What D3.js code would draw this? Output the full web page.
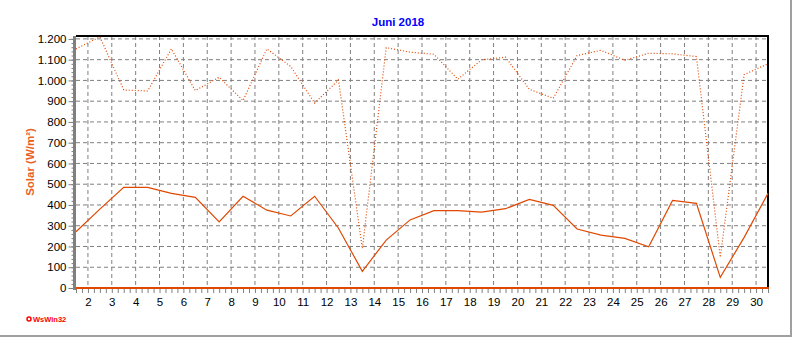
<!DOCTYPE html>
<html>
<head>
<meta charset="utf-8">
<script src="https://cdn.jsdelivr.net/npm/d3@7"></script>
<style>
  body { margin: 0; background: #fff; }
  svg { display: block; font-family: "Liberation Sans", Arial, sans-serif; }
</style>
</head>
<body>
<div class="chart"></div>
<script>
// June 2018 solar radiation, one value per day
var days = [1, 2, 3, 4, 5, 6, 7, 8, 9, 10, 11, 12, 13, 14, 15,
            16, 17, 18, 19, 20, 21, 22, 23, 24, 25, 26, 27, 28, 29, 30];
var avgSolar = [271, 380, 485, 485, 456, 437, 318, 442, 375, 347, 442, 288, 80, 231, 328,
                373, 373, 366, 382, 427, 398, 284, 255, 239, 199, 422, 408, 51, 244, 456];
var maxSolar = [1152, 1210, 954, 949, 1152, 951, 1015, 903, 1152, 1067, 891, 1002, 190, 1158, 1136,
                1126, 1006, 1099, 1112, 957, 914, 1120, 1145, 1097, 1131, 1128, 1115, 148, 1028, 1080];
var xTickDays = [2, 3, 4, 5, 6, 7, 8, 9, 10, 11, 12, 13, 14, 15, 16,
                 17, 18, 19, 20, 21, 22, 23, 24, 25, 26, 27, 28, 29, 30];
var yTicks = [0, 100, 200, 300, 400, 500, 600, 700, 800, 900, 1000, 1100, 1200];

var svgWidth = 792;
var svgHeight = 337;

var margin = { top: 36, bottom: 49, right: 24, left: 76 };
var width = svgWidth - margin.left - margin.right;
var height = svgHeight - margin.top - margin.bottom;

var lineColor = "#e04800";

var svg = d3.select(".chart")
  .append("svg")
  .attr("width", svgWidth)
  .attr("height", svgHeight);

// outer panel edges
svg.append("line").attr("x1", 791).attr("x2", 791).attr("y1", 0).attr("y2", 337)
  .attr("stroke", "#a0a0a0").attr("stroke-width", 2);
svg.append("line").attr("x1", 0).attr("x2", 792).attr("y1", 336).attr("y2", 336)
  .attr("stroke", "#a0a0a0").attr("stroke-width", 2);

var chartGroup = svg.append("g")
  .attr("transform", `translate(${margin.left}, ${margin.top})`);

// scales: each day's value sits in the middle of the day
var xScale = d3.scaleLinear().domain([1.5, 30.5]).range([0, width]);
var yScale = d3.scaleLinear().domain([0, 1214]).range([height, 0]);

var de = d3.formatLocale({ decimal: ",", thousands: ".", grouping: [3], currency: ["", ""] });
var fmt = de.format(",d");

// grid
chartGroup.append("g")
  .selectAll("line")
  .data(xTickDays)
  .enter()
  .append("line")
  .attr("x1", d => xScale(d)).attr("x2", d => xScale(d))
  .attr("y1", 0).attr("y2", height)
  .attr("stroke", "#808080").attr("stroke-dasharray", "4,3");

chartGroup.append("g")
  .selectAll("line")
  .data(yTicks.slice(1))
  .enter()
  .append("line")
  .attr("x1", 0).attr("x2", width)
  .attr("y1", d => yScale(d)).attr("y2", d => yScale(d))
  .attr("stroke", "#808080").attr("stroke-dasharray", "4,3");

// frame top and right
chartGroup.append("line").attr("x1", 0).attr("x2", width + 1).attr("y1", 0).attr("y2", 0)
  .attr("stroke", "#000").attr("stroke-width", 2);
chartGroup.append("line").attr("x1", width).attr("x2", width).attr("y1", 0).attr("y2", height)
  .attr("stroke", "#000").attr("stroke-width", 2);

// y axis: minor ticks every 20, labels every 100
var yMinor = d3.axisLeft(yScale).tickValues(d3.range(0, 1201, 20)).tickSize(3).tickFormat("");
chartGroup.append("g").attr("transform", "translate(-1.5,0)").call(yMinor)
  .call(g => g.select(".domain").remove())
  .selectAll("line").attr("stroke", "#808080");

var yAxis = d3.axisLeft(yScale).tickValues(yTicks).tickSize(6).tickPadding(2).tickFormat(fmt);
chartGroup.append("g").attr("transform", "translate(-1.5,0)").call(yAxis)
  .call(g => g.select(".domain").remove())
  .call(g => g.selectAll("line").attr("stroke", "#808080"))
  .selectAll("text")
  .attr("font-size", "11.5px")
  .attr("fill", "#000");

chartGroup.append("line").attr("x1", -1.5).attr("x2", -1.5).attr("y1", 0).attr("y2", height + 2)
  .attr("stroke", "#808080").attr("stroke-width", 3);

// x axis: ticks every 6 hours
var xMinor = d3.axisBottom(xScale).tickValues(d3.range(1.5, 30.51, 0.25)).tickSize(4).tickFormat("");
chartGroup.append("g").attr("transform", `translate(0, ${height + 1})`).call(xMinor)
  .call(g => g.select(".domain").remove())
  .selectAll("line").attr("stroke", "#808080");

var xAxis = d3.axisBottom(xScale).tickValues(xTickDays).tickSize(0).tickPadding(10).tickFormat(d3.format("d"));
chartGroup.append("g").attr("transform", `translate(0, ${height})`).call(xAxis)
  .call(g => g.select(".domain").remove())
  .selectAll("text")
  .attr("font-size", "11.5px")
  .attr("fill", "#000");

chartGroup.append("line").attr("x1", 0).attr("x2", width + 1).attr("y1", height).attr("y2", height)
  .attr("stroke", lineColor).attr("stroke-width", 2);

// data lines
var line = d3.line()
  .x((d, i) => xScale(days[i] + 0.5))
  .y(d => yScale(d));

chartGroup.append("path")
  .datum(maxSolar)
  .attr("d", line)
  .attr("fill", "none")
  .attr("stroke", lineColor)
  .attr("stroke-width", 1.2)
  .attr("stroke-dasharray", "1,2");

chartGroup.append("path")
  .datum(avgSolar)
  .attr("d", line)
  .attr("fill", "none")
  .attr("stroke", lineColor)
  .attr("stroke-width", 1.2);

// titles
svg.append("text")
  .attr("x", 398).attr("y", 26)
  .attr("text-anchor", "middle")
  .attr("font-size", "11.5px").attr("font-weight", "bold")
  .attr("fill", "#0000ff")
  .text("Juni 2018");

svg.append("text")
  .attr("transform", "translate(34, 162) rotate(-90)")
  .attr("text-anchor", "middle")
  .attr("font-size", "11.5px").attr("font-weight", "bold")
  .attr("fill", "#e8601c")
  .text("Solar  (W/m²)");

// program mark
svg.append("circle").attr("cx", 29).attr("cy", 319).attr("r", 2)
  .attr("fill", "none").attr("stroke", "#ff0000").attr("stroke-width", 1.5);
svg.append("text")
  .attr("x", 33).attr("y", 322)
  .attr("font-size", "7.5px").attr("font-weight", "bold")
  .attr("fill", "#ff0000")
  .text("WsWin32");
</script>
</body>
</html>
